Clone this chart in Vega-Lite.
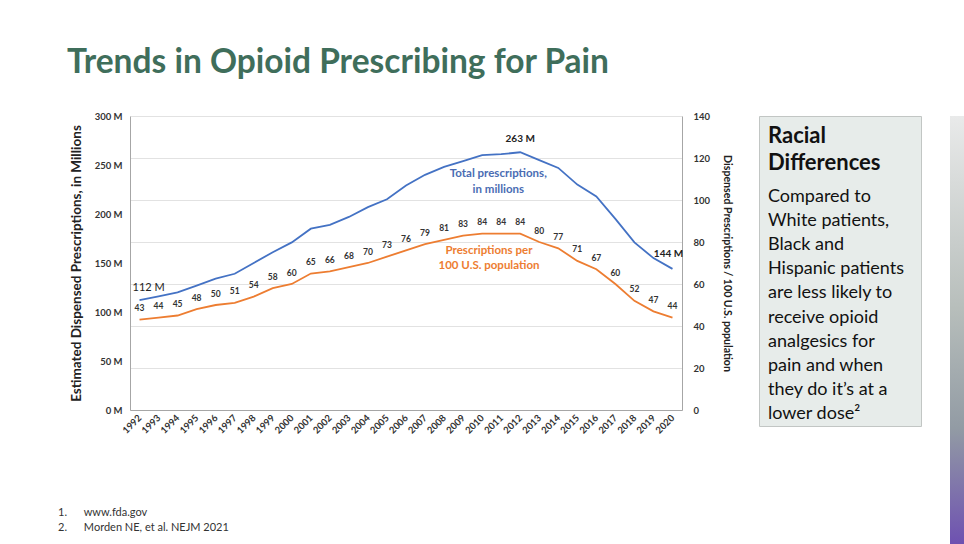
{
  "$schema": "https://vega.github.io/schema/vega-lite/v6.json",
  "background": "white",
  "padding": {"left": 58, "top": 46, "right": 0, "bottom": 0},
  "config": {"view": {"stroke": null}, "axisX": {"labelOverlap": false}},
  "datasets": {
    "series": [
      {"year": 1992, "total": 112, "rate": 43},
      {"year": 1993, "total": 116, "rate": 44},
      {"year": 1994, "total": 120, "rate": 45},
      {"year": 1995, "total": 127, "rate": 48},
      {"year": 1996, "total": 134, "rate": 50},
      {"year": 1997, "total": 139, "rate": 51},
      {"year": 1998, "total": 150, "rate": 54},
      {"year": 1999, "total": 161, "rate": 58},
      {"year": 2000, "total": 171, "rate": 60},
      {"year": 2001, "total": 185, "rate": 65},
      {"year": 2002, "total": 189, "rate": 66},
      {"year": 2003, "total": 197, "rate": 68},
      {"year": 2004, "total": 207, "rate": 70},
      {"year": 2005, "total": 215, "rate": 73},
      {"year": 2006, "total": 229, "rate": 76},
      {"year": 2007, "total": 240, "rate": 79},
      {"year": 2008, "total": 248, "rate": 81},
      {"year": 2009, "total": 254, "rate": 83},
      {"year": 2010, "total": 260, "rate": 84},
      {"year": 2011, "total": 261, "rate": 84},
      {"year": 2012, "total": 263, "rate": 84},
      {"year": 2013, "total": 255, "rate": 80},
      {"year": 2014, "total": 247, "rate": 77},
      {"year": 2015, "total": 230, "rate": 71},
      {"year": 2016, "total": 218, "rate": 67},
      {"year": 2017, "total": 195, "rate": 60},
      {"year": 2018, "total": 171, "rate": 52},
      {"year": 2019, "total": 155, "rate": 47},
      {"year": 2020, "total": 144, "rate": 44}
    ],
    "totalLabels": [
      {"year": 1992, "total": 112, "label": "112 M"},
      {"year": 2012, "total": 263, "label": "263 M"},
      {"year": 2020, "total": 144, "label": "144 M"}
    ],
    "blueNote": [
      {"year": 2010.85, "total": 240.8, "label": "Total prescriptions,"},
      {"year": 2010.85, "total": 224.5, "label": "in millions"}
    ],
    "orangeNote": [
      {"year": 2010.36, "rate": 75.7, "label": "Prescriptions per"},
      {"year": 2010.36, "rate": 68.6, "label": "100 U.S. population"}
    ],
    "sidebar": [
      {"line": 1, "text": "Racial"},
      {"line": 2, "text": "Differences"},
      {"line": 3, "text": "Compared to"},
      {"line": 4, "text": "White patients,"},
      {"line": 5, "text": "Black and"},
      {"line": 6, "text": "Hispanic patients"},
      {"line": 7, "text": "are less likely to"},
      {"line": 8, "text": "receive opioid"},
      {"line": 9, "text": "analgesics for"},
      {"line": 10, "text": "pain and when"},
      {"line": 11, "text": "they do it’s at a"},
      {"line": 12, "text": "lower dose²"}
    ],
    "strip": [{"part": "strip"}]
  },
  "spacing": 28,
  "hconcat": [
    {
      "title": {
        "text": "Trends in Opioid Prescribing for Pain",
        "anchor": "start",
        "frame": "bounds",
        "font": "Lato",
        "fontSize": 33.5,
        "fontWeight": "bold",
        "color": "#3f6e5b",
        "offset": 30.5,
        "dx": 9
      },
      "spacing": 26,
      "hconcat": [
        {
          "width": 552,
          "height": 294,
          "title": {
            "text": ["1.\u00a0\u00a0\u00a0\u00a0\u00a0\u00a0www.fda.gov", "2.\u00a0\u00a0\u00a0\u00a0\u00a0\u00a0Morden NE, et al. NEJM 2021"],
            "orient": "bottom",
            "anchor": "start",
            "frame": "group",
            "font": "Lato",
            "fontSize": 11,
            "fontWeight": "normal",
            "color": "#333333",
            "lineHeight": 15,
            "offset": 72,
            "dx": -72
          },
          "encoding": {
            "x": {
              "field": "year", "type": "quantitative", "title": null,
              "scale": {"domain": [1991.5, 2020.5], "nice": false, "zero": false},
              "axis": {
                "values": [1992,1993,1994,1995,1996,1997,1998,1999,2000,2001,2002,2003,2004,2005,2006,2007,2008,2009,2010,2011,2012,2013,2014,2015,2016,2017,2018,2019,2020],
                "format": "d", "labelAngle": -45, "labelAlign": "right", "labelBaseline": "middle",
                "ticks": false, "grid": false, "domainColor": "#a6a6a6",
                "labelFont": "Lato", "labelFontWeight": "bold", "labelFontSize": 9.5, "labelColor": "#333333",
                "labelPadding": 6, "labelOverlap": false, "labelFlush": false, "labelBound": false
              }
            }
          },
          "layer": [
            {
              "encoding": {
                "y": {
                  "field": "total", "type": "quantitative",
                  "title": "Estimated Dispensed Prescriptions, in Millions",
                  "scale": {"domain": [0, 300], "nice": false},
                  "axis": {
                    "orient": "left", "values": [0, 50, 100, 150, 200, 250, 300],
                    "labelExpr": "datum.value + ' M'", "grid": false, "ticks": false,
                    "domainColor": "#a6a6a6",
                    "labelFont": "Lato", "labelFontWeight": "bold", "labelFontSize": 9.5, "labelColor": "#333333",
                    "labelPadding": 8,
                    "titleFont": "Lato", "titleFontSize": 13.5, "titleFontWeight": "bold", "titleColor": "#222222",
                    "titlePadding": 10.5
                  }
                }
              },
              "layer": [
                {
                  "data": {"name": "series"},
                  "mark": {"type": "line", "color": "#4472C4", "strokeWidth": 1.8}
                },
                {
                  "data": {"name": "totalLabels"},
                  "transform": [{"filter": "datum.year == 1992"}],
                  "mark": {"type": "text", "align": "left", "baseline": "middle", "dx": -7, "dy": -12, "font": "Lato", "fontSize": 11, "color": "#222222"},
                  "encoding": {"text": {"field": "label"}}
                },
                {
                  "data": {"name": "totalLabels"},
                  "transform": [{"filter": "datum.year == 2012"}],
                  "mark": {"type": "text", "align": "center", "baseline": "middle", "dy": -13, "font": "Lato", "fontSize": 10, "fontWeight": "bold", "color": "#222222"},
                  "encoding": {"text": {"field": "label"}}
                },
                {
                  "data": {"name": "totalLabels"},
                  "transform": [{"filter": "datum.year == 2020"}],
                  "mark": {"type": "text", "align": "center", "baseline": "middle", "dx": -4, "dy": -15, "font": "Lato", "fontSize": 10, "fontWeight": "bold", "color": "#222222"},
                  "encoding": {"text": {"field": "label"}}
                },
                {
                  "data": {"name": "blueNote"},
                  "mark": {"type": "text", "align": "center", "baseline": "middle", "font": "Lato", "fontSize": 11.5, "fontWeight": "bold", "color": "#4a6cb3"},
                  "encoding": {"text": {"field": "label"}}
                }
              ]
            },
            {
              "encoding": {
                "y": {
                  "field": "rate", "type": "quantitative",
                  "title": "Dispensed Prescriptions / 100 U.S. population",
                  "scale": {"domain": [0, 140], "nice": false},
                  "axis": {
                    "orient": "right", "values": [0, 20, 40, 60, 80, 100, 120, 140],
                    "grid": true, "gridColor": "#e2e2e2", "ticks": false,
                    "domainColor": "#a6a6a6",
                    "labelFont": "Lato", "labelFontWeight": "bold", "labelFontSize": 9.5, "labelColor": "#333333",
                    "labelPadding": 11,
                    "titleFont": "Lato", "titleFontSize": 10.6, "titleFontWeight": "bold", "titleColor": "#222222",
                    "titlePadding": 12
                  }
                }
              },
              "layer": [
                {
                  "data": {"name": "series"},
                  "mark": {"type": "line", "color": "#ED7D31", "strokeWidth": 1.8}
                },
                {
                  "data": {"name": "series"},
                  "mark": {"type": "text", "align": "center", "baseline": "middle", "dy": -11.5, "font": "Lato", "fontSize": 8.5, "fontWeight": "bold", "color": "#333333"},
                  "encoding": {"text": {"field": "rate", "type": "quantitative", "format": "d"}}
                },
                {
                  "data": {"name": "orangeNote"},
                  "mark": {"type": "text", "align": "center", "baseline": "middle", "font": "Lato", "fontSize": 11.5, "fontWeight": "bold", "color": "#ED7D31"},
                  "encoding": {"text": {"field": "label"}}
                }
              ]
            }
          ],
          "resolve": {"scale": {"y": "independent"}, "axis": {"y": "independent"}}
        },
        {
          "width": 162,
          "height": 310,
          "view": {"fill": "#e7ecea", "stroke": "#c2c6c4", "strokeWidth": 1},
          "data": {"name": "sidebar"},
          "encoding": {
            "x": {"value": 9},
            "y": {"field": "line", "type": "quantitative", "scale": {"domain": [-0.541, 12.27], "reverse": true, "nice": false, "zero": false}, "axis": null},
            "text": {"field": "text"}
          },
          "layer": [
            {
              "transform": [{"filter": "datum.line == 1"}],
              "mark": {"type": "text", "align": "left", "baseline": "alphabetic", "dy": -10.6, "font": "Lato", "fontSize": 22, "fontWeight": "bold", "color": "#111111"}
            },
            {
              "transform": [{"filter": "datum.line == 2"}],
              "mark": {"type": "text", "align": "left", "baseline": "alphabetic", "dy": -7.2, "font": "Lato", "fontSize": 22, "fontWeight": "bold", "color": "#111111"}
            },
            {
              "transform": [{"filter": "datum.line > 2"}],
              "mark": {"type": "text", "align": "left", "baseline": "alphabetic", "font": "Lato", "fontSize": 18, "color": "#111111"}
            }
          ]
        }
      ]
    },
    {
      "width": 14,
      "height": 428,
      "data": {"name": "strip"},
      "mark": {
        "type": "bar",
        "color": {
          "gradient": "linear", "x1": 0, "y1": 0, "x2": 0, "y2": 1,
          "stops": [
            {"offset": 0, "color": "#e9eaea"},
            {"offset": 0.45, "color": "#b7bebb"},
            {"offset": 0.73, "color": "#929ba4"},
            {"offset": 1, "color": "#6e51b1"}
          ]
        }
      },
      "encoding": {
        "x": {"field": "part", "type": "nominal", "axis": null, "scale": {"paddingInner": 0, "paddingOuter": 0}},
        "y": {"datum": 1, "type": "quantitative", "axis": null, "scale": {"domain": [0, 1], "nice": false}}
      }
    }
  ]
}
